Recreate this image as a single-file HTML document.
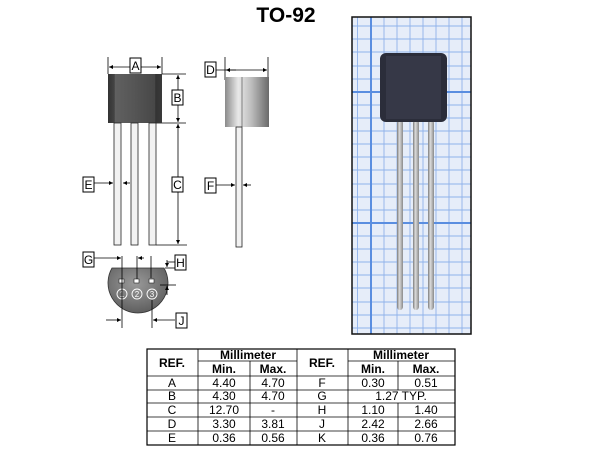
<!DOCTYPE html>
<html><head><meta charset="utf-8"><style>
html,body{margin:0;padding:0;background:#fff;width:600px;height:451px;overflow:hidden}
svg{display:block}
text{font-family:"Liberation Sans",Arial,sans-serif}
</style></head><body>
<svg width="600" height="451" viewBox="0 0 600 451" xmlns="http://www.w3.org/2000/svg">
<defs>
<linearGradient id="bodyA" x1="0" x2="1">
<stop offset="0" stop-color="#333"/><stop offset="0.12" stop-color="#444"/><stop offset="0.13" stop-color="#606060"/><stop offset="0.5" stop-color="#555"/><stop offset="0.87" stop-color="#474747"/><stop offset="0.88" stop-color="#333"/><stop offset="1" stop-color="#3a3a3a"/>
</linearGradient>
<linearGradient id="bodyD" x1="0" x2="1">
<stop offset="0" stop-color="#8a8a8a"/><stop offset="0.3" stop-color="#e8e8e8"/><stop offset="0.6" stop-color="#bdbdbd"/><stop offset="1" stop-color="#6a6a6a"/>
</linearGradient>
<radialGradient id="bot" cx="0.45" cy="0.35" r="0.7">
<stop offset="0" stop-color="#9a9a9a"/><stop offset="1" stop-color="#5a5a5a"/>
</radialGradient>
<linearGradient id="pin" x1="0" x2="1">
<stop offset="0" stop-color="#7c7c7c"/><stop offset="0.4" stop-color="#dcdcdc"/><stop offset="1" stop-color="#8a8a8a"/>
</linearGradient>
<marker id="ar" viewBox="0 0 10 10" refX="10" refY="5" markerWidth="5" markerHeight="5" orient="auto-start-reverse"><path d="M0,0L10,5L0,10z" fill="#000"/></marker>
</defs>

<text x="286" y="22" font-size="21" font-weight="bold" text-anchor="middle">TO-92</text>

<!-- front view -->
<g stroke="#000" stroke-width="0.8">
<line x1="108" y1="57" x2="108" y2="74"/><line x1="162" y1="57" x2="162" y2="74"/>
<line x1="109" y1="67" x2="161" y2="67" marker-start="url(#ar)" marker-end="url(#ar)"/>
<line x1="162" y1="74" x2="186" y2="74"/><line x1="156" y1="123" x2="186" y2="123"/><line x1="156" y1="245" x2="187" y2="245"/>
<line x1="178" y1="75" x2="178" y2="122" marker-start="url(#ar)" marker-end="url(#ar)"/>
<line x1="178" y1="124" x2="178" y2="244" marker-start="url(#ar)" marker-end="url(#ar)"/>
<line x1="94" y1="183" x2="113" y2="183" marker-end="url(#ar)"/>
<line x1="130" y1="183" x2="123" y2="183" marker-end="url(#ar)"/>
</g>
<rect x="108" y="74" width="54" height="49" fill="url(#bodyA)"/>
<rect x="114" y="123" width="7" height="122" fill="#f2f2f2" stroke="#222" stroke-width="0.8"/>
<rect x="131" y="123" width="7" height="122" fill="#f2f2f2" stroke="#222" stroke-width="0.8"/>
<rect x="149" y="123" width="7" height="122" fill="#f2f2f2" stroke="#222" stroke-width="0.8"/>

<!-- side view -->
<g stroke="#000" stroke-width="0.8">
<line x1="225" y1="57" x2="225" y2="80"/><line x1="268" y1="57" x2="268" y2="80"/>
<line x1="216" y1="70" x2="267" y2="70" marker-end="url(#ar)"/>
<line x1="226" y1="70" x2="236" y2="70" marker-start="url(#ar)"/>
<line x1="216" y1="185" x2="235" y2="185" marker-end="url(#ar)"/>
<line x1="251" y1="185" x2="243" y2="185" marker-end="url(#ar)"/>
</g>
<rect x="225" y="77" width="44" height="50" fill="url(#bodyD)"/>
<line x1="242" y1="77" x2="242" y2="127" stroke="#666" stroke-width="0.8"/>
<rect x="236" y="127" width="6" height="120" fill="#f2f2f2" stroke="#222" stroke-width="0.8"/>

<!-- bottom view -->
<path d="M112,268 L164,268 A30,30 0 1 1 112,268 Z" fill="url(#bot)" stroke="#333" stroke-width="0.8"/>
<g fill="#fff" stroke="#222" stroke-width="0.6">
<rect x="119" y="279" width="5" height="4"/><rect x="134" y="279" width="5" height="4"/><rect x="149" y="279" width="5" height="4"/>
</g>
<g fill="none" stroke="#fff" stroke-width="0.9">
<circle cx="122" cy="294" r="5"/><circle cx="137" cy="294" r="5"/><circle cx="152" cy="294" r="5"/>
</g>
<g font-size="8" fill="#fff" text-anchor="middle"><text x="122" y="297">1</text><text x="137" y="297">2</text><text x="152" y="297">3</text></g>
<g stroke="#000" stroke-width="0.8">
<line x1="122" y1="256" x2="122" y2="328"/><line x1="137" y1="256" x2="137" y2="279"/><line x1="151" y1="256" x2="151" y2="278"/><line x1="152" y1="300" x2="152" y2="328"/>
<line x1="94" y1="258" x2="121" y2="258" marker-end="url(#ar)"/>
<line x1="144" y1="258" x2="138" y2="258" marker-end="url(#ar)"/>
<line x1="106" y1="320" x2="121" y2="320" marker-end="url(#ar)"/>
<line x1="175" y1="320" x2="153" y2="320" marker-end="url(#ar)"/>
<line x1="165" y1="268" x2="176" y2="268"/><line x1="160" y1="285" x2="176" y2="285"/>
<line x1="167" y1="260" x2="167" y2="267" marker-end="url(#ar)"/>
<line x1="167" y1="295" x2="167" y2="286" marker-end="url(#ar)"/>
<line x1="167" y1="262" x2="175" y2="262"/>
</g>

<!-- label boxes -->
<g fill="#fff" stroke="#000" stroke-width="1">
<rect x="130" y="58" width="11" height="15"/><rect x="172" y="90" width="11" height="15"/><rect x="172" y="177" width="11" height="15"/>
<rect x="83" y="177" width="11" height="15"/><rect x="205" y="62" width="11" height="15"/><rect x="205" y="178" width="11" height="15"/>
<rect x="83" y="252" width="11" height="15"/><rect x="175" y="255" width="11" height="15"/><rect x="176" y="313" width="11" height="15"/>
</g>
<g font-size="12" text-anchor="middle" fill="#000">
<text x="135.5" y="70">A</text><text x="177.5" y="102">B</text><text x="177.5" y="189">C</text><text x="88.5" y="189">E</text>
<text x="210.5" y="74">D</text><text x="210.5" y="190">F</text><text x="88.5" y="264">G</text><text x="180.5" y="267">H</text><text x="181.5" y="325">J</text>
</g>

<!-- photo -->
<rect x="352" y="17" width="119" height="317" fill="#e6edf9"/>
<g stroke="#8fb2ea" stroke-width="0.9">
<line x1="357.5" y1="17" x2="357.5" y2="334"/><line x1="384" y1="17" x2="384" y2="334"/><line x1="397" y1="17" x2="397" y2="334"/><line x1="410" y1="17" x2="410" y2="334"/><line x1="423" y1="17" x2="423" y2="334"/><line x1="436" y1="17" x2="436" y2="334"/><line x1="449" y1="17" x2="449" y2="334"/><line x1="462" y1="17" x2="462" y2="334"/>
<line x1="352" y1="26" x2="471" y2="26"/><line x1="352" y1="39" x2="471" y2="39"/><line x1="352" y1="52" x2="471" y2="52"/><line x1="352" y1="66" x2="471" y2="66"/><line x1="352" y1="79" x2="471" y2="79"/><line x1="352" y1="105" x2="471" y2="105"/><line x1="352" y1="118" x2="471" y2="118"/><line x1="352" y1="131" x2="471" y2="131"/><line x1="352" y1="144" x2="471" y2="144"/><line x1="352" y1="157" x2="471" y2="157"/><line x1="352" y1="170" x2="471" y2="170"/><line x1="352" y1="184" x2="471" y2="184"/><line x1="352" y1="197" x2="471" y2="197"/><line x1="352" y1="210" x2="471" y2="210"/><line x1="352" y1="236" x2="471" y2="236"/><line x1="352" y1="249" x2="471" y2="249"/><line x1="352" y1="262" x2="471" y2="262"/><line x1="352" y1="275" x2="471" y2="275"/><line x1="352" y1="288" x2="471" y2="288"/><line x1="352" y1="302" x2="471" y2="302"/><line x1="352" y1="315" x2="471" y2="315"/><line x1="352" y1="328" x2="471" y2="328"/>
</g>
<g stroke="#5a8ee0" stroke-width="2"><line x1="371" y1="17" x2="371" y2="334"/><line x1="352" y1="92" x2="471" y2="92"/><line x1="352" y1="223" x2="471" y2="223"/></g>
<rect x="352" y="17" width="119" height="317" fill="none" stroke="#111" stroke-width="1.5"/>
<rect x="397" y="120" width="6" height="190" rx="3" fill="url(#pin)"/>
<rect x="413" y="120" width="6" height="190" rx="3" fill="url(#pin)"/>
<rect x="428" y="120" width="6" height="190" rx="3" fill="url(#pin)"/>
<rect x="380" y="53" width="67" height="69" rx="6" fill="#2b2d3a"/>
<rect x="386" y="56" width="55" height="63" fill="#363847"/>

<!-- table -->
<g stroke="#000" stroke-width="0.8" fill="none">
<rect x="147" y="349" width="308" height="96" stroke-width="1.2"/>
<line x1="198" y1="349" x2="198" y2="445"/><line x1="297" y1="349" x2="297" y2="445"/><line x1="348" y1="349" x2="348" y2="445"/>
<line x1="250" y1="361" x2="250" y2="445"/><line x1="398" y1="361" x2="398" y2="390"/><line x1="398" y1="403" x2="398" y2="445"/>
<line x1="198" y1="361" x2="297" y2="361"/><line x1="348" y1="361" x2="455" y2="361"/>
<line x1="147" y1="376" x2="455" y2="376"/><line x1="147" y1="390" x2="455" y2="390"/><line x1="147" y1="403" x2="455" y2="403"/><line x1="147" y1="417" x2="455" y2="417"/><line x1="147" y1="431" x2="455" y2="431"/>
</g>
<g font-size="12" text-anchor="middle" fill="#000" font-weight="bold">
<text x="172" y="367">REF.</text><text x="322" y="367">REF.</text>
<text x="248" y="359">Millimeter</text><text x="401" y="359">Millimeter</text>
<text x="224" y="373">Min.</text><text x="273" y="373">Max.</text><text x="373" y="373">Min.</text><text x="426" y="373">Max.</text>
</g>
<g font-size="12" text-anchor="middle" fill="#000">
<text x="172" y="387">A</text><text x="224" y="387">4.40</text><text x="273" y="387">4.70</text><text x="322" y="387">F</text><text x="373" y="387">0.30</text><text x="426" y="387">0.51</text>
<text x="172" y="400">B</text><text x="224" y="400">4.30</text><text x="273" y="400">4.70</text><text x="322" y="400">G</text><text x="401" y="400">1.27 TYP.</text>
<text x="172" y="414">C</text><text x="224" y="414">12.70</text><text x="273" y="414">-</text><text x="322" y="414">H</text><text x="373" y="414">1.10</text><text x="426" y="414">1.40</text>
<text x="172" y="428">D</text><text x="224" y="428">3.30</text><text x="273" y="428">3.81</text><text x="322" y="428">J</text><text x="373" y="428">2.42</text><text x="426" y="428">2.66</text>
<text x="172" y="442">E</text><text x="224" y="442">0.36</text><text x="273" y="442">0.56</text><text x="322" y="442">K</text><text x="373" y="442">0.36</text><text x="426" y="442">0.76</text>
</g>
</svg>
</body></html>
